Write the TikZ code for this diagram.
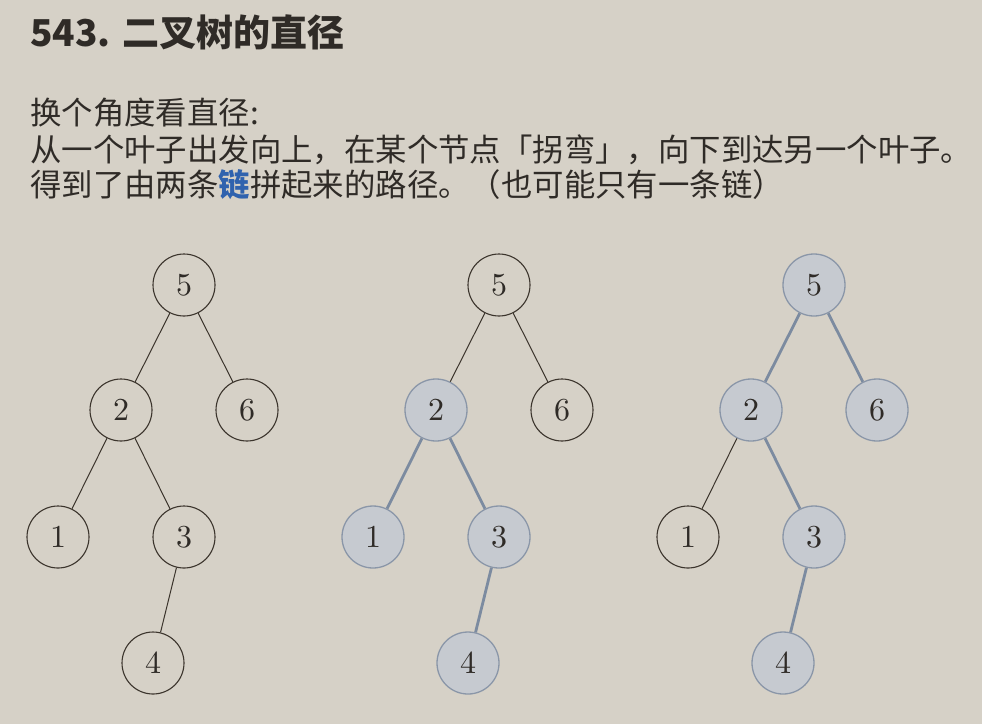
\documentclass[tikz,border=0pt]{standalone}
\usepackage{fontspec}
\newfontfamily\cjk{Noto Sans CJK SC}
\newfontfamily\dg{lmroman10-regular}[Extension=.otf]
\definecolor{bg}{HTML}{D6D1C7}
\definecolor{txt}{HTML}{2F2B27}
\definecolor{nline}{HTML}{3B342C}
\definecolor{hfill}{HTML}{C6CAD0}
\definecolor{hline}{HTML}{8A96A8}
\definecolor{hedge}{HTML}{7C8BA0}
\definecolor{lblue}{HTML}{2F62AE}
\begin{document}
\begin{tikzpicture}[x=1pt,y=-1pt,
  tn/.style={circle,draw=nline,line width=1.1pt,minimum size=62pt,inner sep=0pt,
    font=\dg\fontsize{32}{32}\selectfont,text=txt},
  hn/.style={tn,fill=hfill,draw=hline,line width=1.3pt},
  te/.style={draw=nline,line width=1pt},
  he/.style={draw=hedge,line width=2.8pt},
  ttl/.style={anchor=west,inner sep=0pt,text=txt,font=\cjk\bfseries\fontsize{37}{37}\selectfont},
  body/.style={anchor=west,inner sep=0pt,text=txt,font=\cjk\fontsize{31.4}{31.4}\selectfont}]
\fill[bg] (0,0) rectangle (982,724);
\useasboundingbox (0,0) rectangle (982,724);
\node[ttl] (title) at (30,32) {543. 二叉树的直径};
\node[body] (l1) at (30,113) {换个角度看直径:};
\node[body] (l2) at (30,150) {从一个叶子出发向上，在某个节点「拐弯」，向下到达另一个叶子。};
\node[body] (l3) at (30,185) {得到了由两条{\bfseries\color{lblue}链}拼起来的路径。（也可能只有一条链）};
% tree 1
\node[tn] (a5) at (184,285) {5};
\node[tn] (a2) at (121,410) {2};
\node[tn] (a6) at (247,410) {6};
\node[tn] (a1) at (58,537) {1};
\node[tn] (a3) at (184,537) {3};
\node[tn] (a4) at (153,663) {4};
\draw[te] (a5) -- (a2);
\draw[te] (a5) -- (a6);
\draw[te] (a2) -- (a1);
\draw[te] (a2) -- (a3);
\draw[te] (a3) -- (a4);
% tree 2
\node[tn] (b5) at (499,285) {5};
\node[hn] (b2) at (436,410) {2};
\node[tn] (b6) at (562,410) {6};
\node[hn] (b1) at (373,537) {1};
\node[hn] (b3) at (499,537) {3};
\node[hn] (b4) at (468,663) {4};
\draw[te] (b5) -- (b2);
\draw[te] (b5) -- (b6);
\draw[he] (b2) -- (b1);
\draw[he] (b2) -- (b3);
\draw[he] (b3) -- (b4);
% tree 3
\node[hn] (c5) at (814,285) {5};
\node[hn] (c2) at (751,410) {2};
\node[hn] (c6) at (877,410) {6};
\node[tn] (c1) at (688,537) {1};
\node[hn] (c3) at (814,537) {3};
\node[hn] (c4) at (783,663) {4};
\draw[he] (c5) -- (c2);
\draw[he] (c5) -- (c6);
\draw[te] (c2) -- (c1);
\draw[he] (c2) -- (c3);
\draw[he] (c3) -- (c4);
\end{tikzpicture}
\end{document}
